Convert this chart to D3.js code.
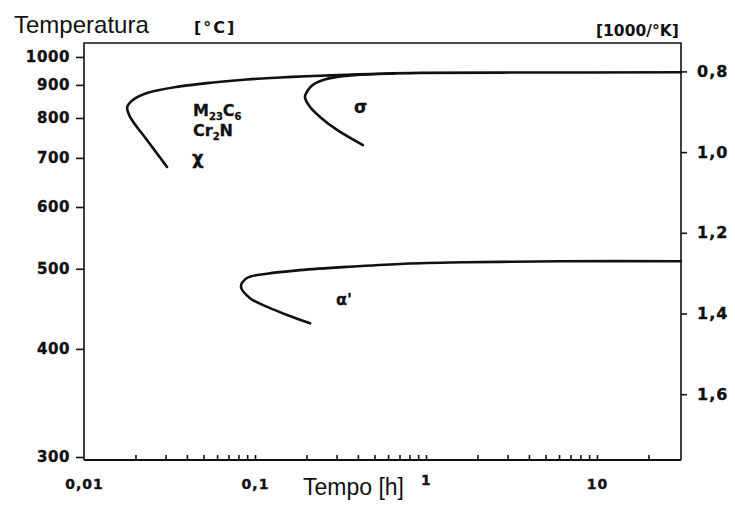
<!DOCTYPE html>
<html>
<head>
<meta charset="utf-8">
<script src="https://cdn.jsdelivr.net/npm/d3@7"></script>
<style>
  html, body { margin: 0; padding: 0; background: #fff; }
  svg { display: block; }
</style>
</head>
<body>
<svg id="chart" width="735" height="512"></svg>
<script>
// Start-of-precipitation curves: time in hours, temperature in °C

// M23C6 / Cr2N / chi curve (lower branch -> nose -> upper branch)
const chiTime = [0.0306, 0.0234, 0.0186, 0.0179, 0.0193, 0.0234, 0.0364, 0.0568, 0.0898, 0.140, 0.218, 0.345, 0.538, 0.922, 2.71, 31];
const chiTemp = [680, 742, 803, 831, 852, 874, 895, 908, 918, 925, 930, 934, 938, 941, 942, 943];

// sigma curve, joining the upper branch above
const sigmaTime = [0.428, 0.302, 0.240, 0.210, 0.196, 0.204, 0.218, 0.250, 0.302, 0.395, 0.659];
const sigmaTemp = [730, 768, 803, 831, 861, 883, 900, 916, 927, 934, 939];

// alpha' curve
const alphaTime = [0.210, 0.154, 0.118, 0.0935, 0.0828, 0.0898, 0.118, 0.183, 0.359, 0.705, 1.38, 2.71, 6.08, 31];
const alphaTemp = [429, 439, 449, 460, 475, 487, 493, 498, 503, 507, 509, 510, 511, 511];

// axis ticks and labels
const timeTicks = [0.01, 0.1, 1, 10];
const timeTickLabels = ["0,01", "0,1", "1", "10"];
const tempTicks = [1000, 900, 800, 700, 600, 500, 400, 300];
const invTicks = [0.8, 1.0, 1.2, 1.4, 1.6];
const invTickLabels = ["0,8", "1,0", "1,2", "1,4", "1,6"];

// reciprocal absolute temperature, 1000/K
const inv = T => 1000 / (T + 273.15);

const svg = d3.select("#chart");
const plotLeft = 84, plotRight = 681, plotTop = 43, plotBottom = 460;

const x = d3.scaleLog().domain([0.01, 31]).range([plotLeft, plotRight]);
const y = d3.scaleLinear().domain([0.752, 1.752]).range([plotTop, plotBottom]);
const yR = d3.scaleLinear().domain([0.7296, 1.7631]).range([plotTop, plotBottom]);

const ink = "#111";
const boldFont = "'DejaVu Sans', sans-serif";
const plainFont = "'Liberation Sans', Arial, sans-serif";

// frame
svg.append("path")
  .attr("d", `M${plotLeft},${plotBottom}V${plotTop}H${plotRight}V${plotBottom}`)
  .attr("fill", "none").attr("stroke", ink).attr("stroke-width", 1.6);
svg.append("line")
  .attr("x1", plotLeft).attr("x2", plotRight).attr("y1", plotBottom).attr("y2", plotBottom)
  .attr("stroke", ink).attr("stroke-width", 2);

// left axis: °C placed on the 1000/K scale
const leftAxis = svg.append("g")
  .attr("transform", `translate(${plotLeft},0)`)
  .call(d3.axisLeft(y)
    .tickValues(tempTicks.map(inv))
    .tickFormat((d, i) => tempTicks[i])
    .tickSize(8).tickPadding(6).tickSizeOuter(0));

// right axis: 1000/K
const rightAxis = svg.append("g")
  .attr("transform", `translate(${plotRight},0)`)
  .call(d3.axisRight(yR)
    .tickValues(invTicks)
    .tickFormat((d, i) => invTickLabels[i])
    .tickSize(6).tickPadding(10).tickSizeOuter(0));

// bottom axis: labels below, minor ticks pointing inward
const bottomAxis = svg.append("g")
  .attr("transform", `translate(0,${plotBottom})`)
  .call(d3.axisBottom(x)
    .tickValues(timeTicks)
    .tickFormat((d, i) => timeTickLabels[i])
    .tickSize(0).tickPadding(19).tickSizeOuter(0));

const minorTicks = x.ticks().filter(t => t > 0.011 && t < 25);
svg.append("g")
  .attr("transform", `translate(0,${plotBottom})`)
  .call(d3.axisTop(x).tickValues(minorTicks).tickFormat("").tickSize(5).tickSizeOuter(0));

svg.selectAll(".domain").remove();
svg.selectAll(".tick line").attr("stroke", ink).attr("stroke-width", 1.6);
svg.selectAll(".tick text")
  .attr("fill", ink)
  .attr("stroke", ink)
  .attr("stroke-width", 0.35)
  .attr("font-family", boldFont)
  .attr("font-weight", "bold");
leftAxis.selectAll(".tick text").attr("font-size", 15).attr("letter-spacing", 0.6);
rightAxis.selectAll(".tick text").attr("font-size", 16).attr("letter-spacing", 1);
bottomAxis.selectAll(".tick text").attr("font-size", 14).attr("letter-spacing", 1);
bottomAxis.selectAll(".tick text").filter((d, i) => i === 2).attr("dy", "0.45em");

// precipitation curves
const line = d3.line()
  .x(d => x(d[0]))
  .y(d => y(inv(d[1])))
  .curve(d3.curveCatmullRom.alpha(0.5));

const curves = [
  d3.zip(chiTime, chiTemp),
  d3.zip(sigmaTime, sigmaTemp),
  d3.zip(alphaTime, alphaTemp)
];
svg.append("g").selectAll("path")
  .data(curves)
  .join("path")
  .attr("d", line)
  .attr("fill", "none")
  .attr("stroke", ink)
  .attr("stroke-width", 2.6)
  .attr("stroke-linecap", "round")
  .attr("stroke-linejoin", "round");

// titles
svg.append("text").attr("x", 14).attr("y", 33)
  .attr("font-family", plainFont).attr("font-size", 24).attr("fill", ink)
  .text("Temperatura");
svg.append("text").attr("x", 194).attr("y", 33)
  .attr("font-family", boldFont).attr("font-weight", "bold").attr("font-size", 16)
  .attr("letter-spacing", 2).attr("fill", ink)
  .text("[°C]");
svg.append("text").attr("x", 596).attr("y", 36)
  .attr("font-family", boldFont).attr("font-weight", "bold").attr("font-size", 15.5)
  .attr("fill", ink)
  .text("[1000/°K]");
svg.append("text").attr("x", 303).attr("y", 495)
  .attr("font-family", plainFont).attr("font-size", 23).attr("fill", ink)
  .text("Tempo [h]");

// phase labels
const phase = svg.append("g")
  .attr("font-family", boldFont).attr("font-weight", "bold").attr("fill", ink)
  .attr("stroke", ink).attr("stroke-width", 0.3);

const m = phase.append("text").attr("x", 193).attr("y", 116).attr("font-size", 16);
m.append("tspan").text("M");
m.append("tspan").attr("dy", 4).attr("font-size", 10).text("23");
m.append("tspan").attr("dy", -4).text("C");
m.append("tspan").attr("dy", 4).attr("font-size", 10).text("6");

const cr = phase.append("text").attr("x", 193).attr("y", 136).attr("font-size", 16);
cr.append("tspan").text("Cr");
cr.append("tspan").attr("dy", 4).attr("font-size", 10).text("2");
cr.append("tspan").attr("dy", -4).text("N");

phase.append("text").attr("x", 192).attr("y", 164).attr("font-size", 18).text("χ");
phase.append("text").attr("x", 354).attr("y", 113).attr("font-size", 17).text("σ");
phase.append("text").attr("x", 336).attr("y", 305).attr("font-size", 16).text("α'");
</script>
</body>
</html>
